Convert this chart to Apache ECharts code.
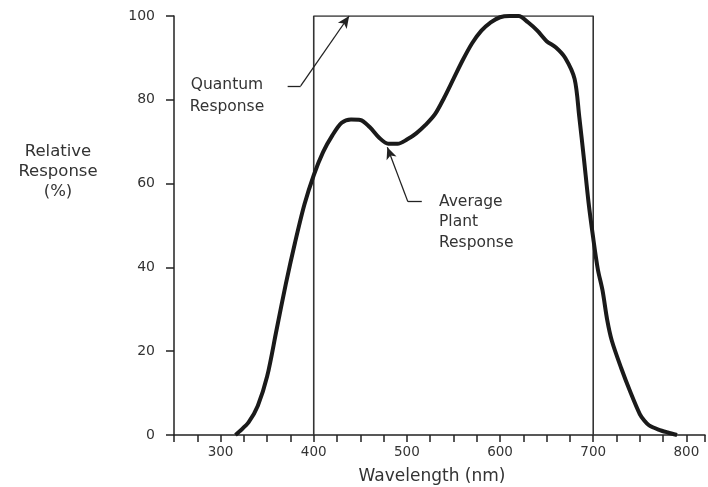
<!DOCTYPE html>
<html>
<head>
<meta charset="utf-8">
<script src="https://cdn.jsdelivr.net/npm/echarts@6/dist/echarts.min.js"></script>
<style>
html, body { margin: 0; padding: 0; background: #fff; }
#graph { width: 708px; height: 487px; }
</style>
</head>
<body>
<div id="graph"></div>
<script>
// average plant response
var wavelength = [316, 320, 330, 340, 350, 360, 370, 380, 390, 400, 410, 420, 430, 440, 450, 460, 470, 480, 490, 500,
    510, 520, 530, 540, 550, 560, 570, 580, 590, 600, 610, 620, 630, 640, 650, 660, 670, 680, 685, 690,
    695, 700, 705, 710, 715, 720, 730, 740, 750, 755, 760, 770, 780, 790];
var plantResponse = [0, 0.8, 3, 7, 14, 25, 36, 46, 55, 62, 67.5, 71.5, 74.5, 75.3, 75.2, 73.5, 71, 69.5, 69.5, 70.5,
    72, 74, 76.5, 80.5, 85, 89.5, 93.5, 96.5, 98.5, 99.7, 100, 100, 98.5, 96.5, 94, 92.5, 90, 85, 76, 66,
    55.5, 47, 39.5, 34.5, 27.5, 22.5, 16, 10.2, 5, 3.4, 2.3, 1.3, 0.6, 0];

// quantum response box
var quantumX = [400, 400, 700, 700];
var quantumY = [0, 100, 100, 0];

var xTickLabels = [300, 400, 500, 600, 700, 800];
var yTickLabels = [0, 20, 40, 60, 80, 100];

var font = '"DejaVu Sans", "Liberation Sans", sans-serif';
var ink = '#222';

function pairs(xs, ys) {
    var out = [];
    for (var i = 0; i < xs.length; i++) out.push([xs[i], ys[i]]);
    return out;
}

var chart = echarts.init(document.getElementById('graph'));

var option = {
    backgroundColor: '#fff',
    animation: false,
    grid: { left: 174, top: 16, width: 534, height: 419, containLabel: false },
    xAxis: {
        type: 'value',
        min: 250,
        max: 820,
        interval: 25,
        axisLine: { show: true, onZero: false, lineStyle: { color: ink, width: 1.5 } },
        axisTick: { show: true, length: 7, lineStyle: { color: ink, width: 1.5 } },
        splitLine: { show: false },
        axisLabel: {
            margin: 10,
            color: '#333',
            fontFamily: font,
            fontSize: 13.5,
            formatter: function (v) {
                return xTickLabels.indexOf(v) >= 0 ? String(v) : '';
            }
        }
    },
    yAxis: {
        type: 'value',
        min: 0,
        max: 100,
        interval: 20,
        axisLine: { show: true, lineStyle: { color: ink, width: 1.5 } },
        axisTick: { show: true, length: 8, lineStyle: { color: ink, width: 1.5 } },
        splitLine: { show: false },
        axisLabel: {
            margin: 19,
            color: '#333',
            fontFamily: font,
            fontSize: 14,
            formatter: function (v) {
                return yTickLabels.indexOf(v) >= 0 ? String(v) : '';
            }
        }
    },
    series: [
        {
            name: 'Quantum Response',
            type: 'line',
            data: pairs(quantumX, quantumY),
            symbol: 'none',
            lineStyle: { color: '#333', width: 1.6 },
            markLine: {
                silent: true,
                animation: false,
                label: { show: false },
                lineStyle: { color: '#222', width: 1.3, type: 'solid' },
                data: [
                    [{ coord: [372, 83.3], symbol: 'none' }, { coord: [386, 83.3], symbol: 'none' }],
                    [{ coord: [386, 83.3], symbol: 'none' }, { coord: [438, 100], symbol: 'arrow', symbolSize: [8, 12] }],
                    [{ coord: [516, 55.7], symbol: 'none' }, { coord: [501, 55.7], symbol: 'none' }],
                    [{ coord: [501, 55.7], symbol: 'none' }, { coord: [479, 68.7], symbol: 'arrow', symbolSize: [8, 12] }]
                ]
            }
        },
        {
            name: 'Average Plant Response',
            type: 'line',
            data: pairs(wavelength, plantResponse),
            symbol: 'none',
            smooth: 0.3,
            lineStyle: { color: '#1a1a1a', width: 4 }
        }
    ],
    graphic: [
        {
            type: 'text', x: 58, y: 172,
            style: {
                text: 'Relative\nResponse\n(%)',
                fill: '#333', font: '16.5px ' + font,
                textAlign: 'center', textVerticalAlign: 'middle', lineHeight: 20
            }
        },
        {
            type: 'text', x: 227, y: 96,
            style: {
                text: 'Quantum\nResponse',
                fill: '#333', font: '15.5px ' + font,
                textAlign: 'center', textVerticalAlign: 'middle', lineHeight: 22
            }
        },
        {
            type: 'text', x: 439, y: 222,
            style: {
                text: 'Average\nPlant\nResponse',
                fill: '#333', font: '15.5px ' + font,
                textAlign: 'left', textVerticalAlign: 'middle', lineHeight: 20.5
            }
        },
        {
            type: 'text', x: 432, y: 477,
            style: {
                text: 'Wavelength (nm)',
                fill: '#333', font: '17px ' + font,
                textAlign: 'center', textVerticalAlign: 'middle'
            }
        }
    ]
};

chart.setOption(option);
</script>
</body>
</html>
